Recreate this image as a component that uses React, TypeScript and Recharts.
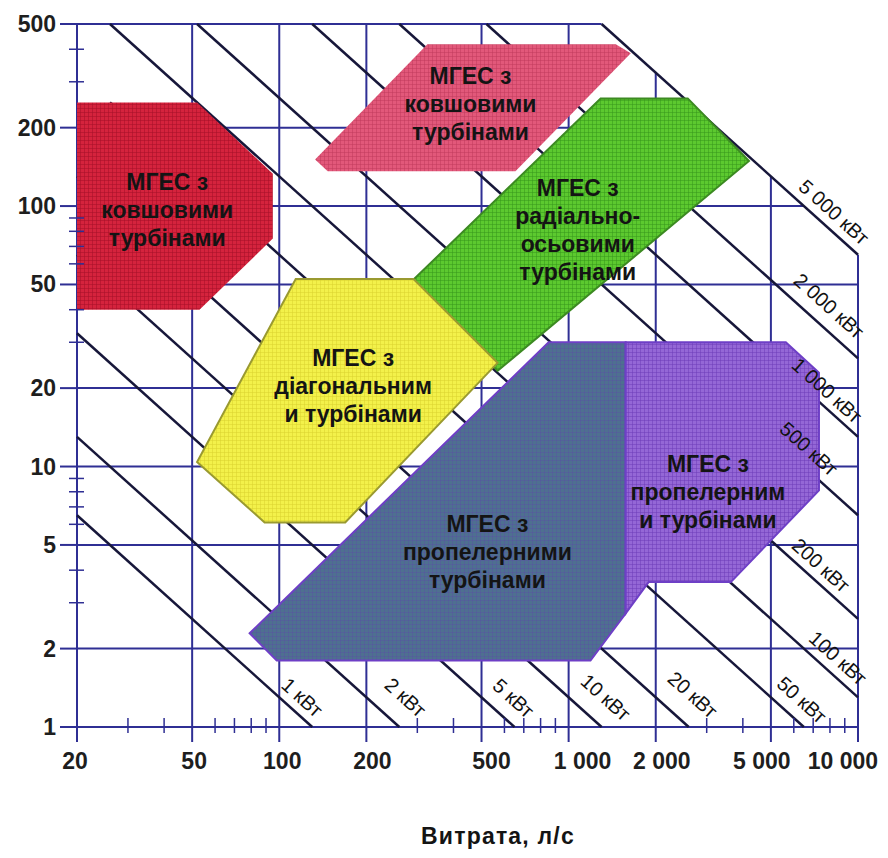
import { ScatterChart, Scatter, XAxis, YAxis } from "recharts";

const FONT = "'Liberation Sans', Arial, sans-serif";
const GRID = "#2f2f94";
const ISO = "#17173a";

// chart geometry (inside the svg)
const W = 872;
const H = 842;
const PLOT_LEFT = 69;
const PLOT_TOP = 16;
const PLOT_BOTTOM = 719;

// axes: flow Q, l/s (x) and head H, m (y)
const flowMajor = [20, 50, 100, 200, 500, 1000, 2000, 5000, 10000];
const flowLabels = ["20", "50", "100", "200", "500", "1 000", "2 000", "5 000", "10 000"];
const flowLabelShift = [-2, 2, 3, 6, 10, 14, 6, -9, -15];
const flowMinor = [30, 40, 60, 70, 80, 90, 300, 400, 600, 700, 800, 900, 3000, 4000, 6000, 7000, 8000, 9000];
const headMajor = [1, 2, 5, 10, 20, 50, 100, 200, 500];
const headMinor = [3, 4, 6, 7, 8, 9, 30, 40, 60, 70, 80, 90, 300, 400];

// grid lines are cut by the 5 000 kW boundary
const flowGridTop = [500, 500, 500, 500, 500, 500, 325, 130, 65];
const headGridRight = [10000, 10000, 10000, 10000, 10000, 10000, 6500, 3250, 1300];

// iso-power lines, kW
const powerLabels = ["1 кВт", "2 кВт", "5 кВт", "10 кВт", "20 кВт", "50 кВт", "100 кВт", "200 кВт", "500 кВт", "1 000 кВт", "2 000 кВт", "5 000 кВт"];
const powerStart = [[20, 6.5], [20, 13], [20, 32.5], [20, 65], [20, 130], [26, 250], [26, 500], [52, 500], [130, 500], [260, 500], [520, 500], [1300, 500]];
const powerEnd = [[130, 1], [260, 1], [650, 1], [1300, 1], [2600, 1], [6500, 1], [10000, 1.3], [10000, 2.6], [10000, 6.5], [10000, 13], [10000, 26], [10000, 65]];
const powerLabelAt = [[120, 1.3], [273, 1.3], [645, 1.29], [1343, 1.3], [2685, 1.33], [6400, 1.27], [8530, 1.84], [7447, 4.18], [6765, 11.7], [7812, 19.6], [7943, 41.4], [8260, 94.8]];

// turbine regions (Q, H vertices)
const peltonLow = [[20, 250], [52, 250], [95, 133], [95, 75], [53, 40], [20, 40]];
const peltonHigh = [[147, 136], [133, 151], [325, 418], [1455, 418], [1640, 386], [655, 136]];
const francis = [[290, 52], [1290, 259], [2580, 259], [4200, 149], [568, 23.3]];
const diagonal = [[114, 52.5], [291, 52.5], [568, 25], [169, 6.1], [89, 6.1], [52, 10.4]];
const kaplan = [[79, 2.29], [853, 30], [1575, 30], [1575, 2.73], [1190, 1.8], [98, 1.8]];
const propeller = [[1575, 30], [5630, 30], [7330, 22.9], [7330, 8.1], [3635, 3.6], [1890, 3.6], [1575, 2.73]];

const regionNames = [
  ["МГЕС з", "ковшовими", "турбінами"],
  ["МГЕС з", "ковшовими", "турбінами"],
  ["МГЕС з", "радіально-", "осьовими", "турбінами"],
  ["МГЕС з", "діагональним", "и турбінами"],
  ["МГЕС з", "пропелерними", "турбінами"],
  ["МГЕС з", "пропелерним", "и турбінами"],
];
const regionLabelAt = [[41, 97], [458, 246], [1075, 81], [180, 20.4], [524, 4.7], [3030, 7.95]];

const regions = [
  { id: "red", pts: peltonLow, fill: "#d5233d", grid: "#a40f28", op: 0.5, stroke: "none" },
  { id: "pink", pts: peltonHigh, fill: "#e2587a", grid: "#bf3a5c", op: 0.5, stroke: "none" },
  { id: "green", pts: francis, fill: "#5cc92f", grid: "#36961c", op: 0.5, stroke: "#3c8a22" },
  { id: "yellow", pts: diagonal, fill: "#f3f14a", grid: "#d9d22e", op: 0.5, stroke: "#9a9a30" },
  { id: "blue", pts: kaplan, fill: "#4e7090", grid: "#5b4aa6", op: 0.35, stroke: "#6e3fc6" },
  { id: "purple", pts: propeller, fill: "#9467d6", grid: "#6b3cb8", op: 0.5, stroke: "#6e3fc6" },
];

const toPts = (arr: number[][]) => arr.map(([q, h]) => ({ q, h }));
const noPoint = () => <g />;

const polygonLine = (r: any) => (props: any) => {
  const pts = props.points || [];
  if (!pts.length) return <g />;
  const d = pts.map((p: any, i: number) => `${i ? "L" : "M"}${p.x},${p.y}`).join("") + "Z";
  return (
    <g>
      <defs>
        <pattern id={`tex-${r.id}`} width={4} height={4} patternUnits="userSpaceOnUse">
          <rect width={4} height={4} fill={r.fill} />
          <rect width={4} height={1} fill={r.grid} opacity={r.op} />
          <rect width={1} height={4} fill={r.grid} opacity={r.op} />
        </pattern>
      </defs>
      <path d={d} fill={`url(#tex-${r.id})`} stroke={r.stroke} strokeWidth={r.stroke === "none" ? 0 : 2} />
    </g>
  );
};

const RegionLabel = (props: any) => {
  const { cx, cy, payload } = props;
  const lines: string[] = payload.lines;
  const lh = 28;
  const y0 = cy - ((lines.length - 1) * lh) / 2;
  return (
    <text textAnchor="middle" fontFamily={FONT} fontWeight="bold" fontSize={23} fill="#141414">
      {lines.map((s, i) => (
        <tspan key={i} x={cx} y={y0 + i * lh} dominantBaseline="central">
          {s}
        </tspan>
      ))}
    </text>
  );
};

const PowerLabel = (props: any) => {
  const { cx, cy, payload } = props;
  return (
    <text
      x={cx}
      y={cy}
      transform={`rotate(42 ${cx} ${cy})`}
      textAnchor="middle"
      dominantBaseline="central"
      fontFamily={FONT}
      fontSize={20}
      fill="#111"
    >
      {payload.text}
    </text>
  );
};

const FlowTick = (props: any) => {
  const { x, payload } = props;
  const i = flowMajor.indexOf(payload.value);
  if (i < 0) {
    return <line x1={x} x2={x} y1={PLOT_BOTTOM - 9} y2={PLOT_BOTTOM + 6} stroke={GRID} strokeWidth={1.5} />;
  }
  return (
    <g>
      <line x1={x} x2={x} y1={PLOT_BOTTOM} y2={PLOT_BOTTOM + 15} stroke={GRID} strokeWidth={2} />
      <text x={x + flowLabelShift[i]} y={PLOT_BOTTOM + 42} textAnchor="middle" fontFamily={FONT} fontWeight="bold" fontSize={23} fill="#1e1e1e">
        {flowLabels[i]}
      </text>
    </g>
  );
};

const HeadTick = (props: any) => {
  const { y, payload } = props;
  const major = headMajor.includes(payload.value);
  if (!major) {
    return <line x1={PLOT_LEFT - 8} x2={PLOT_LEFT + 7} y1={y} y2={y} stroke={GRID} strokeWidth={1.5} />;
  }
  return (
    <g>
      <line x1={PLOT_LEFT - 17} x2={PLOT_LEFT} y1={y} y2={y} stroke={GRID} strokeWidth={2} />
      <text x={PLOT_LEFT - 21} y={y} textAnchor="end" dominantBaseline="central" fontFamily={FONT} fontWeight="bold" fontSize={23} fill="#1e1e1e">
        {payload.value}
      </text>
    </g>
  );
};

export default function App() {
  const regionLabelData = regionLabelAt.map(([q, h], i) => ({ q, h, lines: regionNames[i] }));
  const powerLabelData = powerLabelAt.map(([q, h], i) => ({ q, h, text: powerLabels[i] }));

  return (
    <div style={{ position: "relative", width: W, height: H, background: "#fff" }}>
      <ScatterChart width={W} height={H} margin={{ top: PLOT_TOP, right: 22, left: 0, bottom: 0 }}>
        <XAxis
          type="number"
          dataKey="q"
          scale="log"
          domain={[20, 10000]}
          ticks={[...flowMajor, ...flowMinor]}
          interval={0}
          tick={FlowTick}
          tickLine={false}
          axisLine={false}
          height={H - PLOT_BOTTOM}
        />
        <YAxis
          type="number"
          dataKey="h"
          scale="log"
          domain={[1, 500]}
          ticks={[...headMajor, ...headMinor]}
          interval={0}
          tick={HeadTick}
          tickLine={false}
          axisLine={false}
          width={PLOT_LEFT}
        />

        {flowMajor.map((q, i) => (
          <Scatter
            key={`vg-${q}`}
            data={toPts([[q, 1], [q, flowGridTop[i]]])}
            line={{ stroke: GRID, strokeWidth: 2 }}
            shape={noPoint}
            isAnimationActive={false}
          />
        ))}
        {headMajor.map((h, i) => (
          <Scatter
            key={`hg-${h}`}
            data={toPts([[20, h], [headGridRight[i], h]])}
            line={{ stroke: GRID, strokeWidth: 2 }}
            shape={noPoint}
            isAnimationActive={false}
          />
        ))}
        {powerStart.map((s, i) => (
          <Scatter
            key={`iso-${i}`}
            data={toPts([s, powerEnd[i]])}
            line={{ stroke: ISO, strokeWidth: 2.5 }}
            shape={noPoint}
            isAnimationActive={false}
          />
        ))}

        {regions.map((r) => (
          <Scatter key={r.id} data={toPts(r.pts)} line={polygonLine(r)} shape={noPoint} isAnimationActive={false} />
        ))}

        <Scatter data={regionLabelData} shape={RegionLabel} isAnimationActive={false} />
        <Scatter data={powerLabelData} shape={PowerLabel} isAnimationActive={false} />
      </ScatterChart>
      <div
        style={{
          position: "absolute",
          left: 380,
          width: 220,
          top: 816,
          textAlign: "center",
          fontFamily: FONT,
          fontWeight: "bold",
          fontSize: 23,
          lineHeight: "24px",
          letterSpacing: 1.2,
          color: "#141414",
        }}
      >
        Витрата, л/с
      </div>
    </div>
  );
}
